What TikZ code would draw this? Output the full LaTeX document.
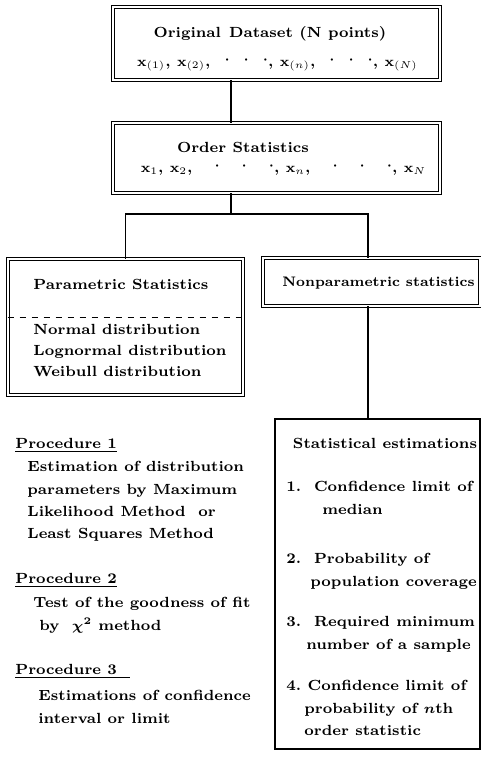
\documentclass[tikz,border=0pt]{standalone}
\usepackage{amsmath}
\usepackage{tikz}
\usetikzlibrary{positioning}
\tikzset{
  dblbox/.style={
    draw, double, double distance=1.1pt, line width=0.45pt,
    inner sep=0pt
  },
  estbox/.style={draw, line width=0.9pt, inner sep=0pt},
  txt/.style={
    font=\fontsize{7.35}{11.2}\selectfont\bfseries,
    inner sep=0pt, anchor=west, align=left
  },
  link/.style={line width=0.9pt}
}
\newcommand{\vx}[1]{$\mathbf{x}_{#1}$}
\newcommand{\rdot}{\raisebox{1.2pt}{$\boldsymbol{\cdot}$}}
\newcommand{\dotsrow}[1]{\hspace{#1}\rdot\hspace{#1}\rdot\hspace{#1}\rdot}

\begin{document}
\begin{tikzpicture}[x=0.5pt, y=-0.5pt,
  lstline/.style={txt, font=\fontsize{7.35}{10.4}\selectfont\bfseries}
]
\useasboundingbox (0,0) rectangle (481,761);

\node[dblbox, minimum width=163.5pt, minimum height=36.5pt] (orig) at (276.5,43.5) {};
\node[txt, anchor=center] (origtitle) at (270,34) {Original\hspace{4pt}Dataset (N points)};
\node[txt, anchor=center] (origrow) at (277.5,64) {\vx{(1)}, \vx{(2)},\dotsrow{7pt},\ \vx{(n)},\dotsrow{7pt},\ \vx{(N)}};

\node[dblbox, minimum width=163.5pt, minimum height=35pt] (order) at (276.5,158) {};
\node[txt, anchor=center] (ordertitle) at (243,147) {Order Statistics};
\node[txt, anchor=center] (orderrow) at (283.5,169) {\vx{1},\ \vx{2},\dotsrow{11pt},\ \vx{n},\dotsrow{11pt},\ \vx{N}};

\node[dblbox, minimum width=117.5pt, minimum height=68pt] (param) at (125.5,327) {};
\node[txt] (paramtitle) at (33,284) {Parametric Statistics};
\node[lstline, anchor=north west] (dists) at (33,324)
  {Normal distribution\\Lognormal distribution\\Weibull distribution};

\node[dblbox, minimum width=108.5pt, minimum height=24pt] (nonpar) at (371.5,282) {};
\node[txt, font=\fontsize{6.9}{10}\selectfont\bfseries] (nonpartitle) at (282,283) {Nonparametric statistics};

\node[estbox, minimum width=102.5pt, minimum height=165pt] (est) at (377.5,584) {};
\node[txt, anchor=center] (esttitle) at (385,443) {Statistical estimations};
\node[txt, anchor=north west] (est1) at (286,481)
  {1.\ \ Confidence limit of\\\hspace{18pt}median};
\node[txt, anchor=north west] (est2) at (286,553)
  {2.\ \ Probability of\\\hspace{12pt}population coverage};
\node[txt, anchor=north west] (est3) at (286,616)
  {3.\ \ Required minimum\\\hspace{10pt}number of a sample};
\node[txt, anchor=north west] (est4) at (286,680)
  {4.\ Confidence limit of\\\hspace{9pt}probability of $\boldsymbol{n}$th\\\hspace{9pt}order statistic};

\node[txt] (proc1) at (15,445) {\underline{Procedure 1}};
\node[txt, anchor=north west] (proc1text) at (27,461)
  {Estimation of distribution\\parameters by Maximum\\Likelihood Method\ \ or\\Least Squares Method};
\node[txt] (proc2) at (15,580) {\underline{Procedure 2}};
\node[txt, anchor=north west] (proc2text) at (33,597)
  {Test of the goodness of fit\\\hspace{3pt}by\ \ $\boldsymbol{\chi}^{\boldsymbol{2}}$ method};
\node[txt] (proc3) at (15,671) {\underline{Procedure 3\ \ }};
\node[txt, anchor=north west] (proc3text) at (38,690)
  {Estimations of confidence\\interval or limit};

\coordinate (fork) at (231,214);
\coordinate (drop) at (368,0);
\draw[link] (fork |- orig.south) -- (fork |- order.north);
\draw[link] (fork |- order.south) -- (fork);
\draw[link] (param.north) |- (fork) -| (drop |- nonpar.north);
\draw[link] (drop |- nonpar.south) -- (drop |- est.north);

\coordinate (dashy) at (0,317);
\draw[dashed, line width=0.5pt] (param.west |- dashy) -- (param.east |- dashy);

\end{tikzpicture}
\end{document}
